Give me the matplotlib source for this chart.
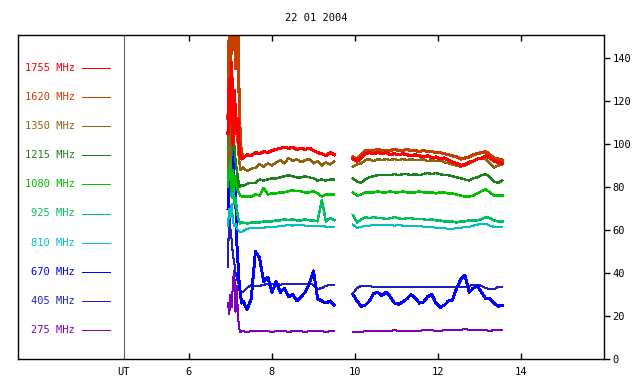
import numpy as np
import matplotlib
matplotlib.use("Agg")
import matplotlib.pyplot as plt

# time bases (UT hours)
burst_t = [6.94, 6.97, 7.00, 7.03, 7.06, 7.09, 7.12, 7.15, 7.18, 7.21, 7.24, 7.27]
seg1_t = [7.3, 7.4, 7.5, 7.6, 7.7, 7.8, 7.9, 8.0, 8.1, 8.2, 8.3, 8.4, 8.5, 8.6, 8.7,
          8.8, 8.9, 9.0, 9.1, 9.2, 9.3, 9.4, 9.5]
seg2_t = [9.95, 10.05, 10.15, 10.25, 10.35, 10.45, 10.55, 10.65, 10.75, 10.85, 10.95,
          11.05, 11.15, 11.25, 11.35, 11.45, 11.55, 11.65, 11.75, 11.85, 11.95, 12.05,
          12.15, 12.25, 12.35, 12.45, 12.55, 12.65, 12.75, 12.85, 12.95, 13.05, 13.15,
          13.25, 13.35, 13.45, 13.55]

labels = ["1755 MHz", "1620 MHz", "1350 MHz", "1215 MHz", "1080 MHz",
          "925 MHz", "810 MHz", "670 MHz", "405 MHz", "275 MHz"]
colors = ["#ff0000", "#c84000", "#8c6410", "#208020", "#00c000",
          "#00c060", "#00c0c0", "#0000ff", "#2020c0", "#8000c0"]

f1755_b = [105, 130, 110, 138, 100, 125, 115, 105, 112, 98, 94, 93]
f1755_1 = [93.5, 95, 94.5, 96, 95.5, 96.5, 96, 97, 97.5, 98, 98.5, 98, 98.5, 97.5, 98,
           97.5, 98, 97, 96, 95.5, 94.5, 96, 95]
f1755_2 = [93, 92, 93.5, 95.5, 96, 95.5, 96, 95.5, 96, 95, 95.5, 95, 95.5, 95, 94.5, 95,
           94.5, 94, 94.5, 93.5, 94, 93, 93.5, 92.5, 91.5, 91, 90, 90.5, 91.5, 92, 93,
           93.5, 94.5, 93.5, 92, 91.5, 91]

f1620_b = [112, 155, 130, 160, 145, 160, 135, 160, 150, 120, 100, 96]
f1620_1 = [93.5, 95, 94.5, 96, 95.5, 96.5, 96, 97, 97.5, 98, 98.5, 98, 98.5, 97.5, 98,
           97.5, 98, 97, 96, 95.5, 94.5, 96, 95]
f1620_2 = [94, 93, 95, 97, 97, 97, 97.5, 97, 97, 97, 97.5, 97, 97, 97.5, 97, 97, 96.5,
           97, 96.5, 96.5, 96, 96, 95.5, 95, 94.5, 94, 93, 93.5, 94, 95, 95.5, 96, 96.5,
           95, 93.5, 93, 92.5]

f1350_b = [88, 104, 95, 110, 100, 115, 105, 110, 98, 92, 88, 88.5]
f1350_1 = [89, 87.5, 88.5, 89, 90.5, 89.5, 91, 90, 91.5, 92.5, 91, 93.5, 92, 93, 91.5,
           92.5, 93, 91, 92, 90, 91.5, 90.5, 92]
f1350_2 = [89.5, 90.5, 91, 92.5, 93, 92, 93, 92.5, 93, 92.5, 93, 92.5, 93, 92.5, 93,
           92.5, 92.5, 93, 92, 92.5, 92, 92.5, 91.5, 91, 90.5, 90, 89.5, 90, 91, 92, 93,
           93.5, 93, 91, 89, 90, 90.5]

f1215_b = [100, 145, 110, 95, 120, 100, 92, 88, 84, 80, 80.5, 81]
f1215_1 = [80.5, 81.5, 82, 82, 83.5, 83, 83.5, 84, 84, 84.5, 85, 85.5, 85, 84.5, 84.5,
           85, 84.5, 84, 83, 83.5, 83, 83.5, 83.5]
f1215_2 = [84, 82.5, 82, 83.5, 84.5, 85, 85.5, 85.5, 85.5, 85.5, 86, 85.5, 86, 86, 85.5,
           86, 85.5, 86, 86.5, 86, 86.5, 86, 85.5, 85.5, 85, 84.5, 84, 83.5, 83, 84, 84.5,
           85.5, 86, 84.5, 82.5, 82, 83]

f1080_b = [80, 125, 95, 78, 88, 80, 85, 80, 78, 77, 76, 75.5]
f1080_1 = [75.5, 75.5, 75.5, 76.5, 76, 79.5, 76.5, 77, 77, 77.5, 77.5, 78, 78.5, 78, 78,
           77.5, 77.5, 78, 77, 75.5, 76.5, 76.5, 76.5]
f1080_2 = [77.5, 76, 76.5, 77.5, 77.5, 77.5, 78, 77.5, 77.5, 78, 77.5, 77.5, 78, 77.5,
           77.5, 77.5, 78, 77.5, 77.5, 77.5, 77, 77.5, 77.5, 77, 77, 76.5, 76, 75.5, 75.5,
           76, 77, 78, 79, 77.5, 76, 76, 76]

f925_b = [80, 92, 88, 75, 82, 72, 75, 70, 66, 64, 63, 63.5]
f925_1 = [63.5, 63, 63.5, 63.5, 63.5, 64, 64, 64, 64.5, 64.5, 65, 64.5, 65, 64.5, 64.5,
          65, 64.5, 64.5, 64, 74, 64, 65.5, 64.5]
f925_2 = [67, 63.5, 65, 66, 65.5, 66, 65.5, 65.5, 65, 65.5, 66, 65.5, 65, 65.5, 65.5, 65,
          65, 65, 64.5, 65, 64.5, 64.5, 64, 64, 64, 63.5, 64, 64, 64.5, 64.5, 64.5, 65,
          66, 65.5, 64.5, 64, 64]

f810_b = [62, 70, 66, 72, 64, 62, 63, 61, 60, 59.5, 59, 59]
f810_1 = [59.5, 60.5, 61, 61, 61, 61, 61.5, 61.5, 61.5, 62, 62, 62.5, 62, 62.5, 62.5, 62,
          62, 62, 62, 62, 61.5, 61.5, 61.5]
f810_2 = [62.5, 61, 61.5, 62, 62, 62.5, 62.5, 62.5, 62.5, 62.5, 62, 62.5, 62, 62, 62, 62,
          62, 61.5, 61.5, 61.5, 61, 61, 61, 60.5, 60.5, 61, 61, 61.5, 61.5, 62, 62.5, 63,
          63, 62, 61.5, 61.5, 61.5]

f670_b = [70, 90, 103, 85, 98, 75, 80, 55, 45, 35, 30, 26]
f670_1 = [27, 23, 28, 50, 47, 36, 38, 31, 36, 31, 33, 29, 30, 27, 29, 31, 35, 41, 28, 27,
          26, 27, 25]
f670_2 = [30, 27, 24.5, 25, 27, 30.5, 31, 29.5, 31, 29, 26, 25.5, 26.5, 28, 30, 28.5, 26,
          26.5, 29, 30, 26, 24, 25, 27, 27.5, 33, 37, 39, 31, 33, 34, 31, 28, 28, 26,
          24.5, 25]

f405_b = [43, 74, 60, 55, 48, 45, 40, 38, 36, 34, 32, 31]
f405_1 = [31, 33, 34.5, 34, 34, 34.5, 35, 35, 35, 34.5, 35, 35, 35, 35, 35, 35, 35, 34.5,
          32.5, 33, 34, 34.5, 34.5]
f405_2 = [30.5, 33, 34, 34, 34, 33.5, 33.5, 33.5, 33.5, 33.5, 33.5, 33.5, 33.5, 33.5,
          33.5, 33.5, 33.5, 33.5, 33.5, 33.5, 33.5, 33.5, 33.5, 33.5, 33.5, 33.5, 33.5,
          33.5, 34, 34.5, 34.5, 34, 33, 32.5, 32.5, 33.5, 33.5]

f275_b = [26, 21, 30, 24, 36, 41, 22, 34, 20, 14, 12.5, 13]
f275_1 = [13, 12.5, 13, 13, 13, 13, 13, 12.5, 13, 13, 13, 12.5, 13, 13, 13, 12.5, 13, 13,
          13, 13, 12.5, 13, 13]
f275_2 = [12.5, 12.5, 12.5, 13, 13, 13, 13, 13, 13, 13, 13.5, 13, 13, 13, 13, 13, 13,
          13.5, 13.5, 13.5, 13, 13, 13.5, 13.5, 13.5, 13.5, 13.5, 14, 13.5, 13.5, 13.5,
          13.5, 13.5, 13, 13.5, 13.5, 13.5]

series = [
    (f1755_b, f1755_1, f1755_2),
    (f1620_b, f1620_1, f1620_2),
    (f1350_b, f1350_1, f1350_2),
    (f1215_b, f1215_1, f1215_2),
    (f1080_b, f1080_1, f1080_2),
    (f925_b, f925_1, f925_2),
    (f810_b, f810_1, f810_2),
    (f670_b, f670_1, f670_2),
    (f405_b, f405_1, f405_2),
    (f275_b, f275_1, f275_2),
]
widths = [1.5, 1.5, 1.0, 1.0, 1.0, 1.0, 0.75, 1.4, 0.75, 0.75]

hours = np.array(burst_t + seg1_t + [np.nan] + seg2_t)

plt.rcParams['font.family'] = ['DejaVu Sans Mono']
fs = 7.5

fig = plt.figure(figsize=(6.4, 3.84), dpi=100)
ax = fig.add_axes([18 / 640, 25 / 384, 586 / 640, 324 / 384])

# low frequencies first, 1755 on top
for i in reversed(range(len(series))):
    b, s1, s2 = series[i]
    vals = np.array(b + s1 + [np.nan] + s2)
    ax.plot(hours, vals, color=colors[i], lw=widths[i], antialiased=False)

# legend panel on the left
for i, lab in enumerate(labels):
    ypx = 68 + i * 29.1
    ya = (359 - ypx) / 324
    ax.text((75 - 18) / 586, ya, lab, color=colors[i], fontsize=fs,
            ha='right', va='center', transform=ax.transAxes)
    ax.plot([(82 - 18) / 586, (110 - 18) / 586], [ya, ya], color=colors[i],
            lw=0.72, transform=ax.transAxes, antialiased=False)

ut = 4.43
ax.axvline(ut, color='#606060', lw=0.8)

ax.set_xlim(1.88, 16.0)
ax.set_ylim(0, 150.7)

ax.set_xticks([ut, 6, 8, 10, 12, 14])
ax.set_xticklabels(['UT', '6', '8', '10', '12', '14'], fontsize=fs)
ax.tick_params(axis='x', direction='in', top=True, bottom=True, length=4,
               width=1, pad=6)
ax.xaxis.get_major_ticks()[0].tick1line.set_visible(False)
ax.xaxis.get_major_ticks()[0].tick2line.set_visible(False)

ax.yaxis.tick_right()
ax.set_yticks([0, 20, 40, 60, 80, 100, 120, 140])
ax.set_yticklabels(['0', '20', '40', '60', '80', '100', '120', '140'], fontsize=fs)
ax.tick_params(axis='y', direction='out', length=4, width=1, pad=2,
               left=False, right=True)

for sp in ax.spines.values():
    sp.set_linewidth(1.0)
    sp.set_color('black')

fig.text(316 / 640, 1 - 18 / 384, '22 01 2004', fontsize=fs, ha='center',
         va='center')

fig.savefig('out.png', dpi=100)
